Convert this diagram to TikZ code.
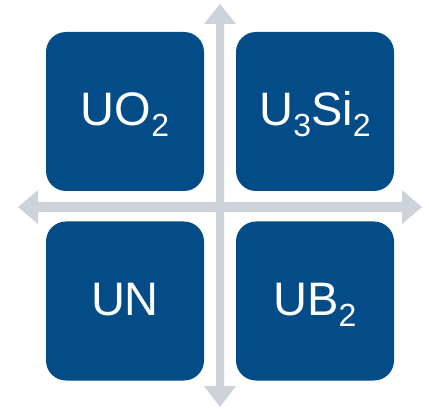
\documentclass[tikz,border=0pt]{standalone}
\usepackage{fontspec}
\setmainfont{Liberation Sans}
\definecolor{boxblue}{HTML}{034C88}
\definecolor{axisgray}{HTML}{CDD2DB}
\newcommand\chemsub[1]{\raisebox{-11pt}{\fontsize{32}{32}\selectfont #1}}
\begin{document}
\begin{tikzpicture}[x=1pt,y=-1pt,
  box/.style={fill=boxblue, rounded corners=20pt, minimum width=158pt, minimum height=159pt, inner sep=0pt, draw=none},
  lbl/.style={text=white, font=\fontsize{47}{47}\selectfont, anchor=base, inner sep=0pt}]
\useasboundingbox (0,0) rectangle (429,409);
% axes
\fill[axisgray] (216,24) -- (204,24) -- (220,4) -- (236,24) -- (224,24) -- (224,386) -- (236,386) -- (220,407) -- (204,386) -- (216,386) -- cycle;
\fill[axisgray] (38,202) -- (38,190) -- (18,207) -- (38,224) -- (38,212) -- (402,212) -- (402,224) -- (422,207) -- (402,190) -- (402,202) -- cycle;
% boxes
\node[box] (uo) at (125,111.5) {};
\node[box] (usi) at (315,111.5) {};
\node[box] (un) at (125,301) {};
\node[box] (ub) at (315,301) {};
% labels
\node[lbl] (luo) at ([yshift=-14.5pt]uo.center) {UO\chemsub{2}};
\node[lbl] (lusi) at ([yshift=-14.5pt]usi.center) {U\chemsub{3}Si\chemsub{2}};
\node[lbl] (lun) at ([yshift=-15pt]un.center) {UN};
\node[lbl] (lub) at ([yshift=-15pt]ub.center) {UB\chemsub{2}};
\end{tikzpicture}
\end{document}
